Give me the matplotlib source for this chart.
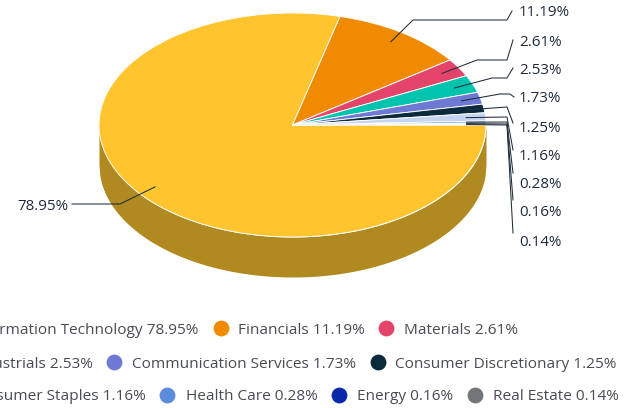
import numpy as np
import matplotlib
matplotlib.use("Agg")
import matplotlib.pyplot as plt

plt.rcParams['font.family'] = ['Open Sans', 'DejaVu Sans']

sectors = ["Information Technology", "Financials", "Materials", "Industrials",
           "Communication Services", "Consumer Discretionary", "Consumer Staples",
           "Health Care", "Energy", "Real Estate"]
weights = [78.95, 11.19, 2.61, 2.53, 1.73, 1.25, 1.16, 0.28, 0.16, 0.14]
colors = ["#FFC42E", "#F08A00", "#E5446A", "#00C4AE", "#6E79D4",
          "#0B2A3C", "#C6D4EF", "#5B8BDB", "#0A28A8", "#72767A"]

W, H = 636, 408
CX, CY, RX, RY, DEPTH = 292.5, 125, 193.5, 112, 40
SIDE = "#B08A20"
LINE = "#1F2D3A"
LABEL = "#1E2A3C"
LEGEND = "#4A4C55"
FS_LABEL = 10.9
FS_LEG = 11.05

fig = plt.figure(figsize=(W / 100, H / 100), dpi=100)
ax = fig.add_axes([0, 0, 1, 1])
ax.pie(weights, colors=colors, startangle=0, counterclock=False, radius=1,
       wedgeprops=dict(edgecolor="white", linewidth=0.65, zorder=3))
ax.set_aspect('auto')
ax.set_xlim(-CX / RX, (W - CX) / RX)
ax.set_ylim(-(H - CY) / RY, CY / RY)
xs = np.linspace(-1, 1, 400)
low = -np.sqrt(1 - xs ** 2)
ax.fill_between(xs, low, low - DEPTH / RY, color=SIDE, linewidth=0, zorder=1)
ax.axis('off')

ov = fig.add_axes([0, 0, 1, 1], facecolor='none')
ov.set_xlim(0, W)
ov.set_ylim(H, 0)
ov.axis('off')

# leader elbows after the anchor on each wedge (pixels), label position
elbows = [
    ([(120, 204), (72, 204)], (68, 206), 'right'),
    ([(413, 20), (507, 20), (512, 11)], (519, 12), 'left'),
    ([(477, 60), (507, 60), (513, 40)], (519, 42), 'left'),
    ([(492, 78), (507, 78), (513, 68)], (519, 70), 'left'),
    ([(500, 94), (510, 94), (514, 97)], (519, 98.5), 'left'),
    ([(507, 107), (513, 123)], (519, 128), 'left'),
    ([(507, 117), (513, 150)], (519, 156), 'left'),
    ([(507, 122), (513, 173)], (519, 184.5), 'left'),
    ([(507, 124), (513, 200)], (519, 213), 'left'),
    ([(507, 125), (513, 233)], (519, 242), 'left'),
]
cum = 0.0
for w, (pts, lab, ha) in zip(weights, elbows):
    mid = -np.deg2rad((cum + w / 2) * 3.6)
    cum += w
    x0 = CX + 0.9 * RX * np.cos(mid)
    y0 = CY - 0.9 * RY * np.sin(mid)
    path = [(x0, y0)] + pts
    ov.plot([p[0] for p in path], [p[1] for p in path], color=LINE, lw=0.75,
            solid_joinstyle='round', zorder=5)
    ov.text(lab[0], lab[1], f"{w:.2f}%", ha=ha, va='center', color=LABEL,
            fontsize=FS_LABEL, zorder=6)

# legend: marker centre x, text left x (first entries end at a fixed x), row y
rows_y = [330, 364, 396.5]
legend_layout = [
    (None, 198, 0), (221, 238, 0), (386, 404, 0),
    (None, 93, 1), (114, 132, 1), (378, 395, 1),
    (None, 146, 2), (167, 186, 2), (339, 357, 2), (475, 493, 2),
]
for name, w, col, (mx, tx, r) in zip(sectors, weights, colors, legend_layout):
    y = rows_y[r]
    s = f"{name} {w:.2f}%"
    if mx is None:
        ov.text(tx, y, s, ha='right', va='center', color=LEGEND, fontsize=FS_LEG)
    else:
        ov.scatter([mx], [y - 2], s=130, color=col, linewidths=0, zorder=4)
        ov.text(tx, y, s, ha='left', va='center', color=LEGEND, fontsize=FS_LEG)

fig.savefig("out.png", dpi=100)
